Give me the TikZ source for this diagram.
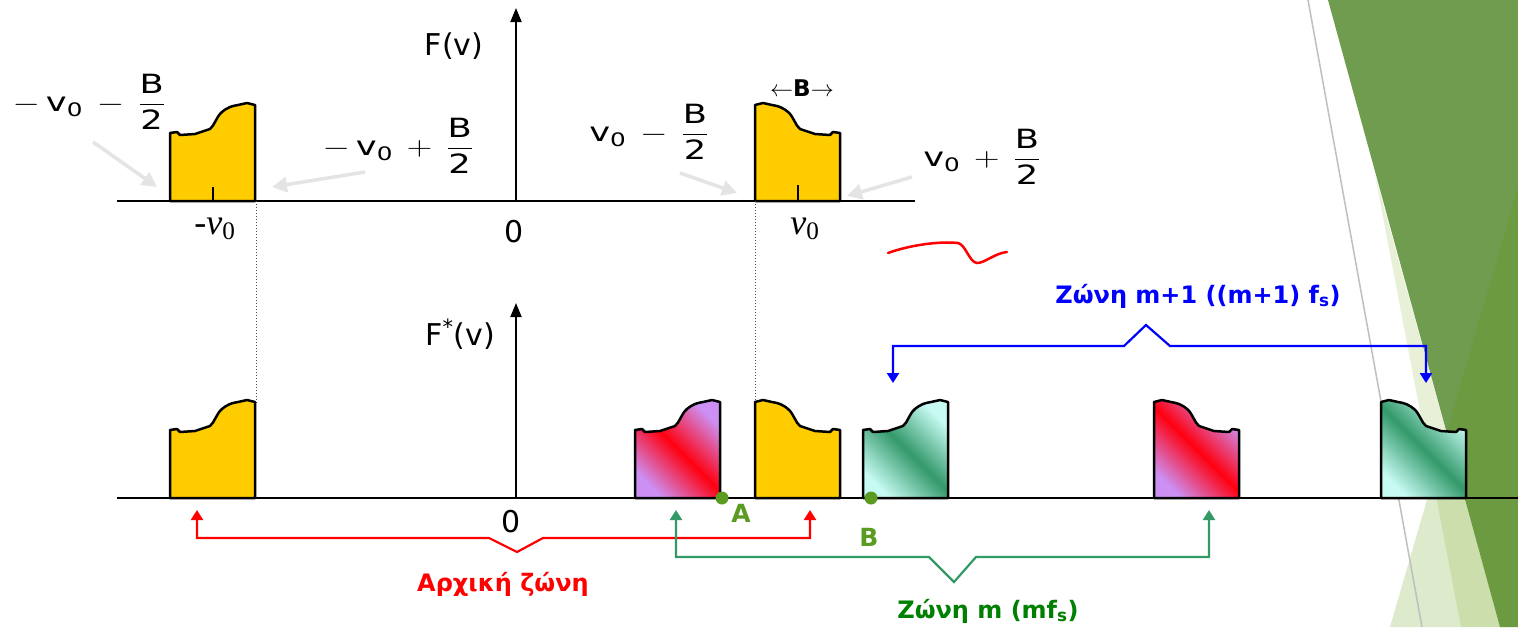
\RequirePackage{fix-cm}
\documentclass[tikz,border=0pt]{standalone}
\usepackage{amsmath}
\usepackage{graphicx}
\usepackage{fontspec}
\setsansfont{DejaVu Sans}
\newfontfamily\timesfont{Liberation Serif}
\usetikzlibrary{arrows.meta}

\definecolor{bandyellow}{HTML}{FFCC00}
\definecolor{bandviolet}{HTML}{CC90F4}
\definecolor{bandred}{HTML}{FF0010}
\definecolor{bandmint}{HTML}{C6FAF2}
\definecolor{bandgreen}{HTML}{33996A}
\definecolor{zonered}{HTML}{FF0000}
\definecolor{zonegreen}{HTML}{008000}
\definecolor{zoneteal}{HTML}{339966}
\definecolor{zoneblue}{HTML}{0000FF}
\definecolor{pointgreen}{HTML}{5B9B22}
\definecolor{facetdark}{HTML}{709C50}
\definecolor{facetpale}{HTML}{E8F0D8}
\definecolor{facetlime}{RGB}{90,150,0}
\definecolor{hintgray}{HTML}{E4E4E4}

% band outlines, left edge at (0,0)
\newcommand{\bandup}{(0,0) -- (0,-68) -- (7,-69) -- (10,-66) -- (25,-67) -- (40,-72) .. controls (45,-76) and (46,-84) .. (52,-89) .. controls (58,-94) and (62,-95) .. (68,-96) -- (77,-98) -- (85,-96) -- (85,0) -- cycle}
\newcommand{\banddown}{(85,0) -- (85,-68) -- (78,-69) -- (75,-66) -- (60,-67) -- (45,-72) .. controls (40,-76) and (39,-84) .. (33,-89) .. controls (27,-94) and (23,-95) .. (17,-96) -- (8,-98) -- (0,-96) -- (0,0) -- cycle}
\newcommand{\edgelabel}[2]{\scalebox{1.33}[1]{$#1\text{v}_{\text{0}}\,#2\,\dfrac{\text{B}}{\text{2}}$}}

\begin{document}
\begin{tikzpicture}[x=1pt, y=-1pt,
    band/.style={draw=black, line width=2.5pt, line join=round},
    yellowband/.style={band, fill=bandyellow},
    redband/.style={band, top color=bandviolet, bottom color=bandviolet, middle color=bandred, shading angle=135},
    greenband/.style={band, top color=bandmint, bottom color=bandmint, middle color=bandgreen, shading angle=135},
    axis/.style={line width=2pt},
    hint/.style={hintgray, line width=3.5pt, -{Triangle[length=15pt,width=15pt]}},
    zone/.style={line width=2.2pt, {Triangle[length=10pt,width=12pt]}-{Triangle[length=10pt,width=12pt]}},
    zonelabel/.style={font=\sffamily\bfseries\fontsize{24}{28}\selectfont, inner sep=0pt, anchor=base},
    edge/.style={font=\sffamily\fontsize{26.5}{32}\selectfont, inner sep=0pt},
    axlabel/.style={font=\sffamily\fontsize{30}{36}\selectfont, inner sep=0pt, anchor=base},
    freq/.style={font=\timesfont\fontsize{36}{42}\selectfont, inner sep=0pt},
    dot/.style={circle, fill=pointgreen, inner sep=0pt, minimum size=13pt},
    pointlabel/.style={font=\sffamily\bfseries\fontsize{25}{30}\selectfont, text=pointgreen, inner sep=0pt, anchor=base}]

  \fill[white] (0,0) rectangle (1518,627);
  \useasboundingbox (0,0) rectangle (1518,627);

  % Slide decoration
  \fill[facetpale] (1375,175) -- (1461,627) -- (1500,627) -- cycle;
  \fill[facetdark] (1328,0) -- (1518,0) -- (1518,627) -- (1500,627) -- cycle;
  \fill[facetlime, opacity=0.2] (1518,187) -- (1390,627) -- (1518,627) -- cycle;
  \draw[black!25, line width=1.5pt] (1308,0) -- (1422,627);

  % Spectrum F(v)
  \coordinate (top-o) at (516,201);
  \draw[axis] (117,201) -- (915,201);
  \draw[axis, -{Triangle[length=14pt,width=11pt]}] (top-o) -- (516,8);
  \node[axlabel] (fv) at (454,55) {F(v)};
  \node[axlabel] (zero-top) at (514,242) {0};
  \draw[yellowband, shift={(170,201)}] \bandup;
  \draw[yellowband, shift={(755,201)}] \banddown;
  \draw[line width=2pt] (213,201) -- (213,187);
  \draw[line width=2pt] (798,201) -- (798,185);
  \node[freq] (neg-v0) at (215,229) {-\textit{v}\textsubscript{0}};
  \node[freq] (pos-v0) at (805,229) {\textit{v}\textsubscript{0}};
  \node[font=\sffamily\bfseries\fontsize{23}{26}\selectfont, inner sep=0pt] (bw) at (802,88) {$\leftarrow$B$\rightarrow$};

  % Band edges
  \node[edge] (e1) at (89,102) {\edgelabel{-\,}{-}};
  \node[edge] (e2) at (398,146) {\edgelabel{-\,}{+}};
  \node[edge] (e3) at (649,132) {\edgelabel{}{-}};
  \node[edge] (e4) at (982,157) {\edgelabel{}{+}};
  \draw[hint] (93,142) -- (157,187);
  \draw[hint] (365,172) -- (272,187);
  \draw[hint] (680,173) -- (737,193);
  \draw[hint] (912,177) -- (847,196);

  % Guide lines
  \draw[dotted, line width=1pt, black!70] (256,201) -- (256,403);
  \draw[dotted, line width=1pt, black!70] (755,201) -- (755,403);

  % Sampled spectrum F*(v)
  \coordinate (bot-o) at (516,498);
  \draw[axis] (117,498) -- (1518,498);
  \draw[axis, -{Triangle[length=14pt,width=11pt]}] (bot-o) -- (516,303);
  \node[axlabel] (fsv) at (460,345) {F\textsuperscript{*}(v)};
  \node[axlabel] (zero-bot) at (511,532) {0};
  \draw[yellowband, shift={(170,498)}] \bandup;
  \draw[redband, shift={(635,498)}] \bandup;
  \draw[yellowband, shift={(755,498)}] \banddown;
  \draw[greenband, shift={(863,498)}] \bandup;
  \draw[redband, shift={(1154,498)}] \banddown;
  \draw[greenband, shift={(1381,498)}] \banddown;

  % Points A and B
  \node[dot] (ptA) at (722,498) {};
  \node[dot] (ptB) at (871,498) {};
  \node[pointlabel] at (741,522) {A};
  \node[pointlabel] at (869,546) {B};

  % Zones
  \coordinate (orig-l) at (197,510);
  \coordinate (orig-r) at (810,510);
  \draw[zone, zonered] (orig-l) -- (197,538) -- (489,538) -- (517,552) -- (543,538) -- (810,538) -- (orig-r);
  \node[zonelabel, text=zonered] (orig-lbl) at (503,591) {Αρχική ζώνη};

  \coordinate (m-l) at (676,510);
  \coordinate (m-r) at (1209,510);
  \draw[zone, zoneteal] (m-l) -- (676,557) -- (929,557) -- (954,582) -- (976,557) -- (1209,557) -- (m-r);
  \node[zonelabel, text=zonegreen] (m-lbl) at (988,618) {Ζώνη m (mf\textsubscript{s})};

  \coordinate (n-l) at (893,383);
  \coordinate (n-r) at (1426,383);
  \draw[zone, zoneblue] (n-l) -- (893,346) -- (1124,346) -- (1146,325) -- (1170,346) -- (1426,346) -- (n-r);
  \node[zonelabel, text=zoneblue] (n-lbl) at (1198,303) {Ζώνη m+1 ((m+1) f\textsubscript{s})};

  % Pen stroke
  \draw[red, line width=2.5pt, line cap=round] (888,253) .. controls (910,245) and (940,241) .. (958,243) .. controls (966,245) and (969,262) .. (977,263) .. controls (985,263) and (995,253) .. (1007,252);
\end{tikzpicture}
\end{document}
